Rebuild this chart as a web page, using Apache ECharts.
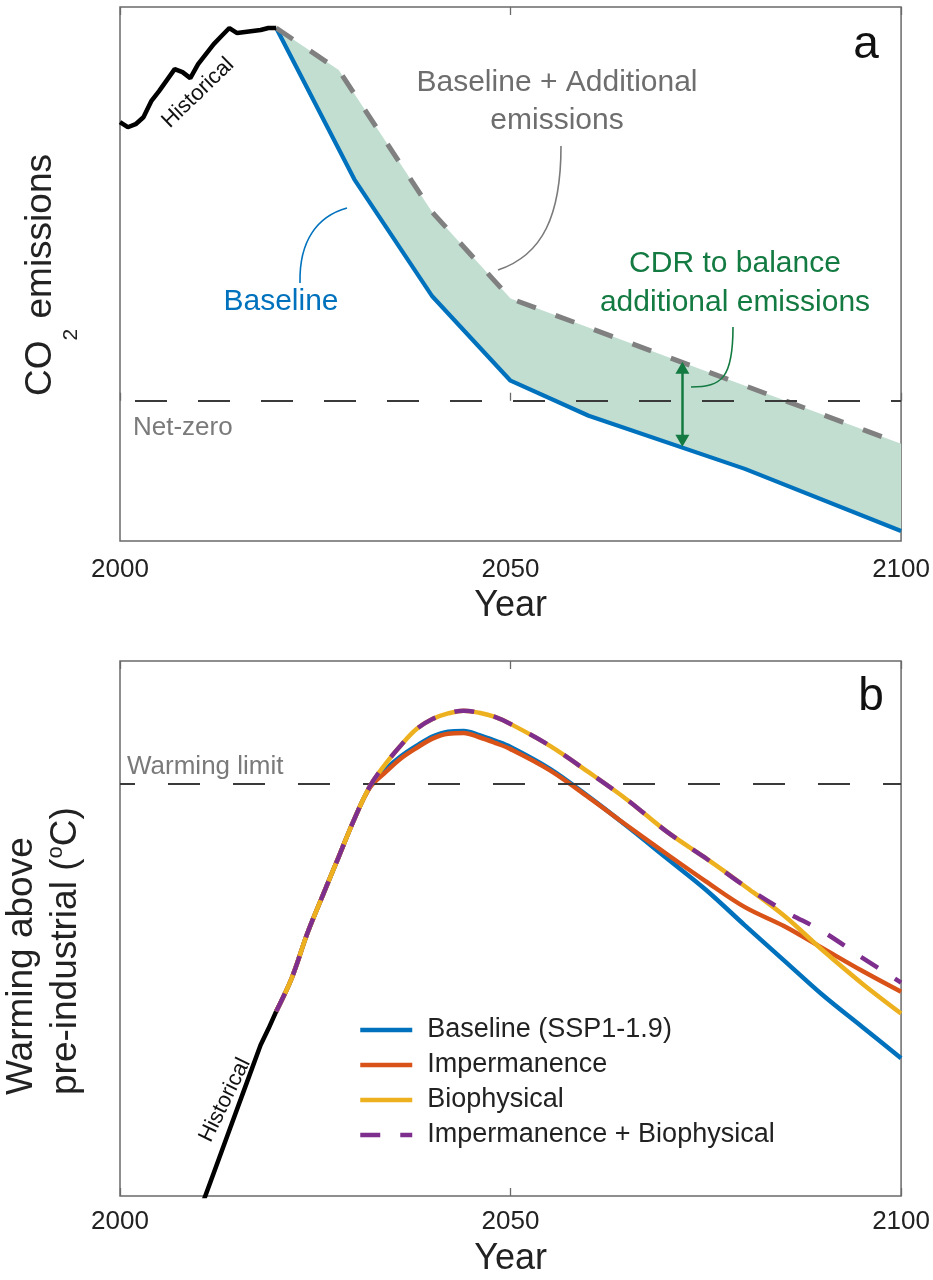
<!DOCTYPE html>
<html>
<head>
<meta charset="utf-8">
<script src="https://cdn.jsdelivr.net/npm/echarts@6/dist/echarts.min.js"></script>
<style>
  html, body { margin: 0; padding: 0; background: #fff; }
  #chart { width: 933px; height: 1280px; }
</style>
</head>
<body>
<div id="chart"></div>
<script>
// panel a: CO2 emissions (arbitrary units, 0 = net-zero)
const histYearsA = [2000, 2001, 2002, 2003, 2004, 2005, 2006, 2007, 2008, 2009, 2010,
  2011, 2012, 2013, 2014, 2015, 2016, 2017, 2018, 2019, 2020]
const histEmis = [27.8, 27.3, 27.6, 28.3, 29.9, 30.9, 32.0, 33.1, 32.8, 32.2, 33.6,
  34.6, 35.6, 36.4, 37.2, 36.7, 36.8, 36.9, 37.0, 37.2, 37.2]
const baseYearsA = [2020, 2030, 2040, 2050, 2060, 2080, 2100]
const baseEmis = [37.2, 22.1, 10.4, 2.0, -1.5, -6.8, -13.0]
const addYearsA = [2020, 2028, 2040, 2050, 2100]
const addEmis = [37.2, 33.0, 18.8, 10.2, -4.3]
const netZero = 0
const cdrArrow = [2072, 3.3, -4.0] // year, top, bottom

// panel b: warming above pre-industrial (degC)
const histYearsB = [2010, 2012, 2014, 2016, 2018, 2019, 2020]
const histWarm = [0.883, 0.944, 1.005, 1.066, 1.127, 1.150, 1.175]
const scenYears = [2020, 2022, 2024, 2026, 2028, 2030, 2032, 2034, 2036, 2038, 2040, 2042, 2044,
  2046, 2048, 2050, 2055, 2060, 2065, 2070, 2075, 2080, 2085, 2090, 2095, 2100]
const baseWarm = [1.175, 1.223, 1.287, 1.342, 1.396, 1.450, 1.496, 1.521, 1.540, 1.555, 1.568, 1.575, 1.576,
  1.570, 1.562, 1.553, 1.522, 1.482, 1.439, 1.394, 1.349, 1.298, 1.248, 1.198, 1.153, 1.108]
const impWarm = [1.175, 1.223, 1.287, 1.342, 1.396, 1.450, 1.495, 1.517, 1.537, 1.552, 1.565, 1.572, 1.573,
  1.567, 1.559, 1.550, 1.520, 1.481, 1.440, 1.400, 1.361, 1.324, 1.297, 1.265, 1.233, 1.203]
const bioWarm = [1.175, 1.223, 1.287, 1.342, 1.396, 1.450, 1.497, 1.529, 1.556, 1.579, 1.593, 1.601, 1.605,
  1.602, 1.596, 1.586, 1.555, 1.517, 1.477, 1.432, 1.394, 1.354, 1.312, 1.262, 1.215, 1.172]
const impBioWarm = [1.175, 1.223, 1.287, 1.342, 1.396, 1.450, 1.497, 1.529, 1.556, 1.579, 1.593, 1.601, 1.605,
  1.602, 1.596, 1.586, 1.555, 1.517, 1.477, 1.432, 1.394, 1.354, 1.319, 1.289, 1.252, 1.216]
const warmingLimit = 1.5

const tickYears = [2000, 2050, 2100]
const scenNames = ['Baseline (SSP1-1.9)', 'Impermanence', 'Biophysical', 'Impermanence + Biophysical']

const FONT = "'Liberation Sans', Arial, Helvetica, sans-serif"
const zip = (xs, ys) => xs.map((x, i) => [x, ys[i]])

const xAxisFor = (grid, pos, nameGap, labelMargin) => ({
  type: 'value', gridIndex: grid, position: pos,
  min: tickYears[0], max: tickYears[tickYears.length - 1], interval: tickYears[1] - tickYears[0],
  axisLine: { show: false },
  axisTick: { show: true, inside: true, length: 8, lineStyle: { color: '#6a6a6a', width: 1.3 } },
  axisLabel: pos === 'bottom'
    ? { show: true, margin: labelMargin, fontSize: 26, color: '#222', fontFamily: FONT, formatter: v => String(v) }
    : { show: false },
  splitLine: { show: false },
  name: pos === 'bottom' ? 'Year' : '',
  nameLocation: 'middle', nameGap: nameGap,
  nameTextStyle: { fontSize: 36, color: '#222', fontFamily: FONT }
})

const yAxisFor = (grid, min, max) => ({
  type: 'value', gridIndex: grid, min: min, max: max,
  axisLine: { show: false }, axisTick: { show: false }, axisLabel: { show: false }, splitLine: { show: false }
})

const lineS = (name, xi, data, color, width, type, z, smooth) => ({
  name: name, type: 'line', xAxisIndex: xi, yAxisIndex: xi, data: data,
  symbol: 'none', showSymbol: false, z: z, smooth: smooth || false,
  lineStyle: { color: color, width: width, type: type || 'solid' },
  itemStyle: { color: color }
})

const chart = echarts.init(document.getElementById('chart'))

const gText = (text, x, y, size, color, extra) => Object.assign({
  type: 'text', x: x, y: y, z: 100, silent: true,
  style: Object.assign({
    text: text, fontSize: size, fontFamily: FONT, fill: color,
    align: 'center', verticalAlign: 'middle', textAlign: 'center', textVerticalAlign: 'middle'
  }, extra && extra.style)
}, extra && extra.el)

const gCurve = (pts, color) => ({
  type: 'bezierCurve', z: 100, silent: true,
  shape: { x1: pts[0], y1: pts[1], cpx1: pts[2], cpy1: pts[3], cpx2: pts[4], cpy2: pts[5], x2: pts[6], y2: pts[7] },
  style: { stroke: color, lineWidth: 1.6, fill: null }
})

chart.setOption({
  animation: false,
  backgroundColor: '#fff',
  grid: [
    { left: 120, top: 7, width: 783, height: 534, show: true, borderColor: '#6a6a6a', borderWidth: 1.5, backgroundColor: 'transparent' },
    { left: 120, top: 661, width: 783, height: 535, show: true, borderColor: '#6a6a6a', borderWidth: 1.5, backgroundColor: 'transparent' }
  ],
  xAxis: [
    xAxisFor(0, 'bottom', 47, 16),
    xAxisFor(1, 'bottom', 45, 13),
    xAxisFor(0, 'top'),
    xAxisFor(1, 'top')
  ],
  yAxis: [yAxisFor(0, -14, 39.3), yAxisFor(1, 0.911, 1.676)],
  legend: {
    data: scenNames, orient: 'vertical', left: 353, top: 1009,
    itemWidth: 52, itemHeight: 14, itemGap: 3,
    itemStyle: { opacity: 0 },
    lineStyle: { width: 4.5 },
    textStyle: { fontSize: 27, color: '#222', fontFamily: FONT, lineHeight: 32, padding: [0, 0, 0, 10] }
  },
  series: [
    {
      type: 'custom', xAxisIndex: 0, yAxisIndex: 0, silent: true, z: 1,
      data: [[2060, 0]],
      renderItem: (params, api) => {
        const pts = []
        addYearsA.forEach((y, i) => pts.push(api.coord([y, addEmis[i]])))
        for (let i = baseYearsA.length - 1; i >= 0; i--) pts.push(api.coord([baseYearsA[i], baseEmis[i]]))
        return { type: 'polygon', shape: { points: pts }, style: { fill: '#c2ded1' } }
      }
    },
    Object.assign(lineS('Baseline', 0, zip(baseYearsA, baseEmis), '#0072bd', 4.2, 'solid', 3), {
      markLine: {
        silent: true, symbol: ['triangle', 'triangle'], symbolSize: [14, 12],
        label: { show: false },
        lineStyle: { color: '#137a41', width: 2.5, type: 'solid' },
        data: [[{ coord: [cdrArrow[0], cdrArrow[1]] }, { coord: [cdrArrow[0], cdrArrow[2]] }]]
      }
    }),
    lineS('Baseline + Additional emissions', 0, zip(addYearsA, addEmis), '#808080', 5, [20, 21], 4),
    Object.assign(lineS('Historical emissions', 0, zip(histYearsA, histEmis), '#000', 4.5, 'solid', 5), {
      markLine: {
        silent: true, symbol: 'none', label: { show: false },
        lineStyle: { color: '#3a3a3a', width: 1.8, type: [32, 31], dashOffset: 48 },
        data: [{ yAxis: netZero }]
      }
    }),
    Object.assign(lineS('Historical warming', 1, zip(histYearsB, histWarm), '#000', 4.5, 'solid', 5), {
      markLine: {
        silent: true, symbol: 'none', label: { show: false },
        lineStyle: { color: '#3a3a3a', width: 1.8, type: [32, 33], dashOffset: 17 },
        data: [{ yAxis: warmingLimit }]
      }
    }),
    lineS(scenNames[0], 1, zip(scenYears, baseWarm), '#0072bd', 4.5, 'solid', 3, 0.35),
    lineS(scenNames[1], 1, zip(scenYears, impWarm), '#d95319', 4.5, 'solid', 4, 0.35),
    lineS(scenNames[2], 1, zip(scenYears, bioWarm), '#edb120', 4.5, 'solid', 5, 0.35),
    lineS(scenNames[3], 1, zip(scenYears, impBioWarm), '#7e2f8e', 4.5, [20, 20], 6, 0.35)
  ],
  graphic: [
    // panel letters
    gText('a', 866, 45, 46, '#111'),
    gText('b', 871, 697, 46, '#111'),
    // axis titles
    gText('CO{s|2} emissions', 41, 275, 37, '#222', {
      el: { rotation: Math.PI / 2 },
      style: { rich: { s: { fontSize: 21, fontFamily: FONT, fill: '#222', padding: [60, 0, 0, 0] } } }
    }),
    gText('Warming above\npre-industrial ({o|o}C)', 44, 1095, 37, '#222', {
      el: { rotation: Math.PI / 2 },
      style: {
        align: 'left', textAlign: 'left', lineHeight: 44,
        rich: { o: { fontSize: 22, fontFamily: FONT, fill: '#222', lineHeight: 22, padding: [0, 0, 20, 0] } }
      }
    }),
    // historical labels
    gText('Historical', 198, 93, 22, '#111', { el: { rotation: 44 * Math.PI / 180 } }),
    gText('Historical', 225, 1100, 22, '#111', { el: { rotation: 64 * Math.PI / 180 } }),
    // annotations panel a
    gText('Baseline + Additional\nemissions', 557, 102, 30, '#6e6e6e', { style: { lineHeight: 38 } }),
    gCurve([561, 146, 561, 215, 543, 255, 498, 270], '#7a7a7a'),
    gText('Baseline', 281, 302, 30, '#0072bd'),
    gCurve([300, 283, 299, 240, 318, 216, 347, 208], '#0072bd'),
    gText('CDR to balance\nadditional emissions', 735, 283, 30, '#137a41', { style: { lineHeight: 39 } }),
    gCurve([733, 327, 733, 378, 722, 387, 691, 387], '#137a41'),
    gText('Net-zero', 133, 428, 26, '#7a7a7a', { style: { align: 'left', textAlign: 'left' } }),
    // annotation panel b
    gText('Warming limit', 127, 767, 26, '#7a7a7a', { style: { align: 'left', textAlign: 'left' } })
  ]
})
</script>
</body>
</html>
